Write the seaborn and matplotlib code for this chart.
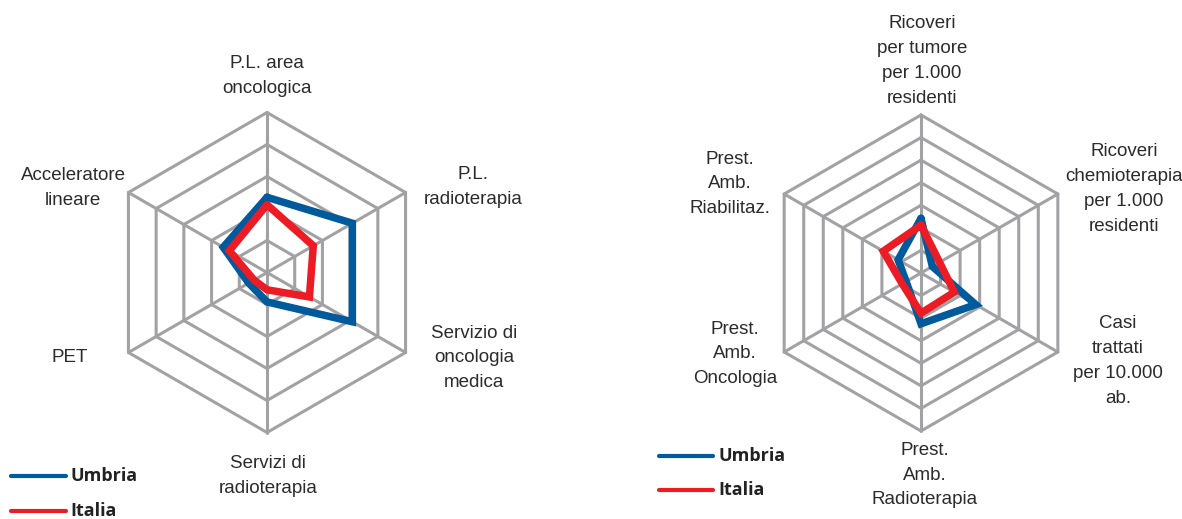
import numpy as np
import pandas as pd
import seaborn as sns
import matplotlib.pyplot as plt
from matplotlib.lines import Line2D

# ---------------- data ----------------
series_names = ["Umbria", "Italia"]

left_labels = ["P.L. area\noncologica", "P.L.\nradioterapia", "Servizio di\noncologia\nmedica",
               "Servizi di\nradioterapia", "PET", "Acceleratore\nlineare"]
left_umbria = [2.35, 3.08, 3.08, 0.92, 0.66, 1.58]
left_italia = [2.12, 1.67, 1.53, 0.54, 0.47, 1.36]
left_rings = 5

right_labels = ["Ricoveri\nper tumore\nper 1.000\nresidenti",
                "Ricoveri\nchemioterapia\nper 1.000\nresidenti",
                "Casi\ntrattati\nper 10.000\nab.",
                "Prest.\nAmb.\nRadioterapia",
                "Prest.\nAmb.\nOncologia",
                "Prest.\nAmb.\nRiabilitaz."]
right_umbria = [2.42, 0.58, 2.8, 2.25, 0.76, 1.17]
right_italia = [2.12, 0.95, 1.7, 1.78, 0.96, 1.93]
right_rings = 7

# ---------------- style ----------------
W, H, DPI = 11.82, 5.19, 100
BLUE = "#005a9c"
RED = "#ed1c24"
GRID = "#a2a2a5"
TXT = "#2b2b2b"

sns.set_theme(style="white")
plt.rcParams['font.family'] = ['Liberation Sans Narrow', 'Liberation Sans', 'DejaVu Sans']

fig = plt.figure(figsize=(W, H), dpi=DPI)
FW, FH = W * DPI, H * DPI

# angles: top, then clockwise
angles = np.deg2rad([90, 30, -30, -90, -150, 150])


def make_axes(cx, cy, radius_px, rings, half_box=200):
    ppu = radius_px / rings
    ax = fig.add_axes([(cx - half_box) / FW, (FH - (cy + half_box)) / FH,
                       2 * half_box / FW, 2 * half_box / FH])
    lim = half_box / ppu
    ax.set_xlim(-lim, lim)
    ax.set_ylim(-lim, lim)
    ax.axis("off")
    return ax, ppu


def draw_grid(ax, rings):
    ca = np.append(angles, angles[0])
    for r in range(1, rings + 1):
        ax.plot(r * np.cos(ca), r * np.sin(ca), color=GRID, lw=2.2,
                solid_joinstyle="miter", zorder=1)
    for a in angles:
        ax.plot([0, rings * np.cos(a)], [0, rings * np.sin(a)], color=GRID, lw=2.2, zorder=1)


def draw_series(ax, umbria, italia):
    rows = []
    for name, vals in zip(series_names, [umbria, italia]):
        v = list(vals) + [vals[0]]
        a = list(angles) + [angles[0]]
        for i, (r, t) in enumerate(zip(v, a)):
            rows.append({"serie": name, "i": i, "x": r * np.cos(t), "y": r * np.sin(t)})
    df = pd.DataFrame(rows)
    sns.lineplot(data=df, x="x", y="y", hue="serie", hue_order=series_names,
                 palette={"Umbria": BLUE, "Italia": RED}, sort=False, estimator=None,
                 linewidth=5.4, legend=False, ax=ax, solid_joinstyle="miter", zorder=3)
    ax.set_xlabel("")
    ax.set_ylabel("")


def put_labels(ax, cx, cy, ppu, labels, positions):
    for lab, (px, py) in zip(labels, positions):
        ax.text((px - cx) / ppu, (cy - py) / ppu, lab, ha="center", va="center",
                fontsize=13.5, color=TXT, linespacing=1.6, clip_on=False)


# left chart
LCX, LCY, LR = 267, 272.5, 160
axL, ppuL = make_axes(LCX, LCY, LR, left_rings)
draw_grid(axL, left_rings)
draw_series(axL, left_umbria, left_italia)
put_labels(axL, LCX, LCY, ppuL, left_labels,
           [(267, 76), (473, 187), (474, 358), (268, 476), (70, 358), (73, 188)])

# right chart
RCX, RCY, RR = 921, 273, 158
axR, ppuR = make_axes(RCX, RCY, RR, right_rings)
draw_grid(axR, right_rings)
draw_series(axR, right_umbria, right_italia)
put_labels(axR, RCX, RCY, ppuR, right_labels,
           [(922, 61), (1124, 189), (1118, 361), (925, 475), (735, 354), (730, 184)])


# legends
def legend(x0, x1, xt, y_blue, y_red):
    for y, col, name in [(y_blue, BLUE, "Umbria"), (y_red, RED, "Italia")]:
        fig.add_artist(Line2D([x0 / FW, x1 / FW], [(FH - y) / FH, (FH - y) / FH],
                              transform=fig.transFigure, color=col, lw=3))
        fig.text(xt / FW, (FH - y) / FH, name, ha="left", va="center",
                 fontsize=13, fontweight="bold", color="#222222",
                 family=["Open Sans", "DejaVu Sans"])


legend(11, 66, 70, 476, 511)
legend(659, 713, 718, 456, 490)

fig.savefig("out.png", dpi=DPI)
